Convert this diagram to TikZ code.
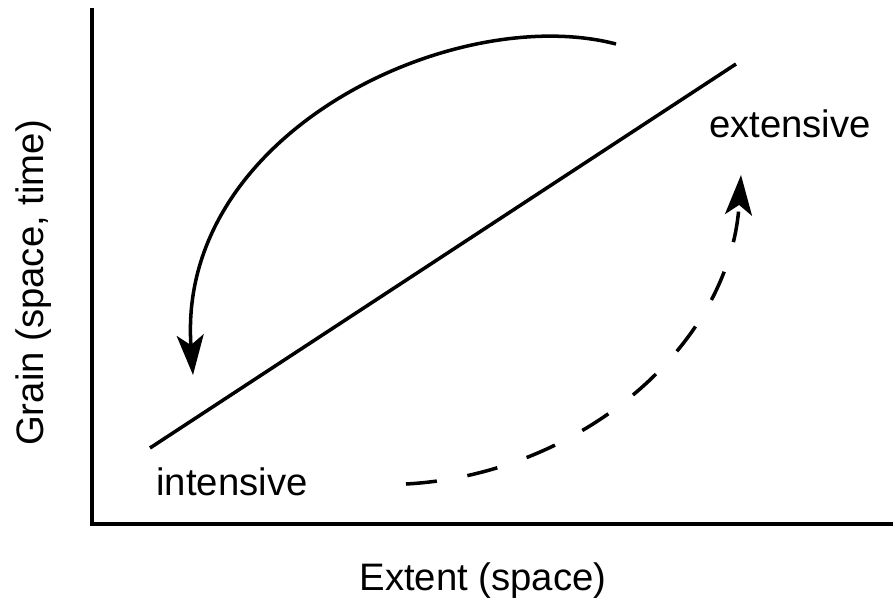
\documentclass[tikz,border=0pt]{standalone}
\usepackage{fontspec}
\setmainfont{Liberation Sans}
\usetikzlibrary{arrows.meta, positioning}
\tikzset{
  axis/.style={line width=2.2pt},
  trend/.style={line width=2pt},
  arr/.style={-{Stealth[length=0.8cm, width=0.54cm, inset=0.2cm]}, line width=2pt},
  lbl/.style={font=\fontsize{21.8}{26}\selectfont, inner sep=0pt, anchor=base},
}

\begin{document}
\begin{tikzpicture}[x=0.02cm, y=-0.02cm]
    \useasboundingbox (0,0) rectangle (893,612);
    % axes
    \draw[axis] (92,8) -- (92,524) -- (893,524);
    \node[lbl] (xlabel) at (483,590) {Extent (space)};
    \node[lbl, rotate=90] (ylabel) at (43,283) {Grain (space, time)};
    % diagonal
    \coordinate (low) at (150,448);
    \coordinate (high) at (736,64);
    \draw[trend] (low) -- (high);
    \node[lbl] (intensive) at (232,495) {intensive};
    \node[lbl] (extensive) at (790,137) {extensive};
    % curved arrows
    \coordinate (topstart) at (616,44);
    \coordinate (topend) at (193,375);
    \draw[arr] (topstart) .. controls (455,2) and (176,132) .. (topend);
    \coordinate (botstart) at (406,484);
    \coordinate (botend) at (741,175);
    \draw[arr, dash pattern=on 0.62cm off 0.62cm] (botstart) .. controls (575,475) and (730,350) .. (botend);
\end{tikzpicture}
\end{document}
